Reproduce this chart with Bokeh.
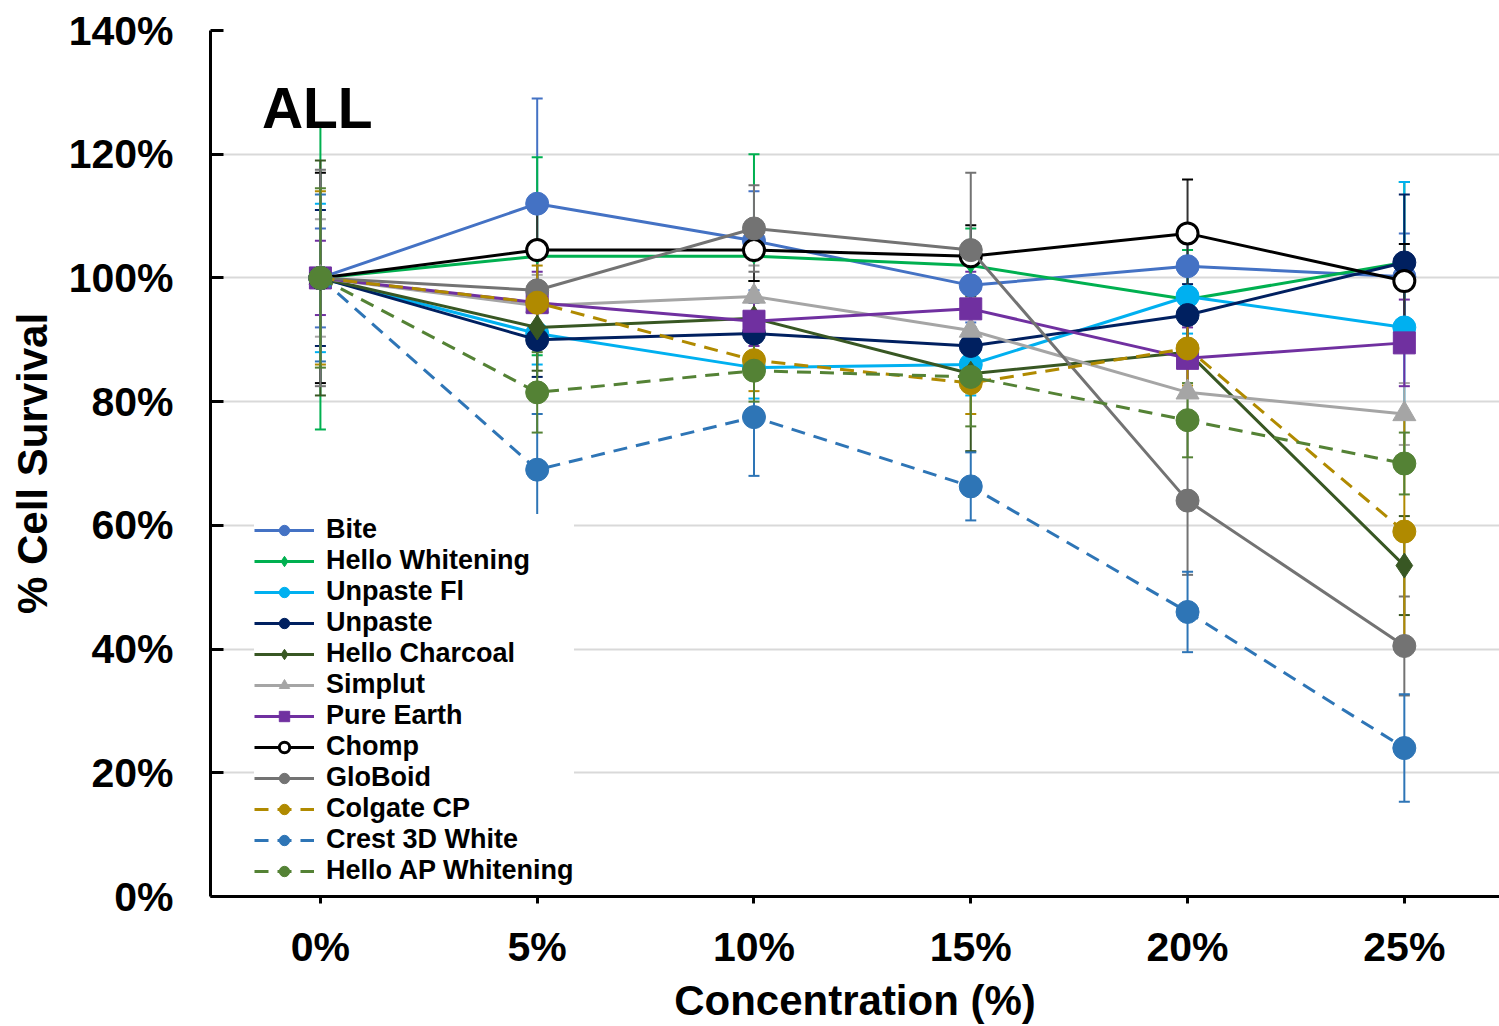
from bokeh.plotting import figure
from bokeh.models import (Range1d, FixedTicker, PrintfTickFormatter, Whisker, TeeHead,
                          ColumnDataSource, Legend, LegendItem, Label)
from bokeh.embed import file_html
from bokeh.resources import INLINE

categories = ["0%", "5%", "10%", "15%", "20%", "25%"]

series_names = ["Bite", "Hello Whitening", "Unpaste Fl", "Unpaste", "Hello Charcoal",
                "Simplut", "Pure Earth", "Chomp", "GloBoid", "Colgate CP",
                "Crest 3D White", "Hello AP Whitening"]

bite = [100, 112, 106, 98.8, 101.9, 100.2]
bite_err = [8, 17, 8, 6, 6, 7]
hello_whitening = [100, 103.5, 103.5, 102, 96.5, 102.5]
hello_whitening_err = [24.5, 16, 16.5, 6, 8, 13]
unpaste_fl = [100, 91, 85.5, 86, 97, 92]
unpaste_fl_err = [12, 5, 5, 5, 6, 23.5]
unpaste = [100, 90, 91, 89, 94, 102.5]
unpaste_err = [11, 6, 5, 5, 5, 11]
hello_charcoal = [100, 92, 93.5, 84.5, 88, 53.5]
hello_charcoal_err = [19, 7, 6, 12.5, 7, 8]
simplut = [100, 95.5, 97, 91.5, 81.5, 78]
simplut_err = [9.5, 5, 5, 5, 4, 5]
pure_earth = [100, 96, 93, 95, 87, 89.5]
pure_earth_err = [6, 5, 4, 6, 5, 7]
chomp = [100, 104.5, 104.5, 103.5, 107.2, 99.5]
chomp_err = [17, 6, 5, 5, 8.7, 6]
globoid = [100, 98, 108, 104.5, 64, 40.5]
globoid_err = [17.5, 6, 7, 12.5, 12, 8]
colgate_cp = [100, 96, 86.7, 83, 88.6, 59]
colgate_cp_err = [14, 6, 5, 5, 6, 19]
crest_3d = [100, 69, 77.5, 66.3, 46, 24]
crest_3d_err = [13.5, 9, 9.5, 5.5, 6.5, 8.7]
hello_ap = [100, 81.5, 85, 84, 77, 70]
hello_ap_err = [14.5, 6.5, 5, 8, 6, 5]

values = [bite, hello_whitening, unpaste_fl, unpaste, hello_charcoal, simplut,
          pure_earth, chomp, globoid, colgate_cp, crest_3d, hello_ap]
errors = [bite_err, hello_whitening_err, unpaste_fl_err, unpaste_err, hello_charcoal_err,
          simplut_err, pure_earth_err, chomp_err, globoid_err, colgate_cp_err,
          crest_3d_err, hello_ap_err]

# style: (line color, fill color, marker, size, dash)
styles = [
    ("#4472C4", "#4472C4", "circle", 23, "solid"),
    ("#00B050", "#00B050", "diamond", 15, "solid"),
    ("#00B0F0", "#00B0F0", "circle", 23, "solid"),
    ("#002060", "#002060", "circle", 23, "solid"),
    ("#385723", "#385723", "diamond", 25, "solid"),
    ("#A5A5A5", "#A5A5A5", "triangle", 23, "solid"),
    ("#7030A0", "#7030A0", "square", 22, "solid"),
    ("#000000", "#FFFFFF", "circle", 21, "solid"),
    ("#737373", "#737373", "circle", 23, "solid"),
    ("#B08A00", "#B08A00", "circle", 23, "14 9"),
    ("#2E75B6", "#2E75B6", "circle", 23, "14 9"),
    ("#548235", "#548235", "circle", 23, "14 9"),
]

FONT = "Liberation Sans"

p = figure(width=1499, height=1026, output_backend="svg", toolbar_location=None,
           x_range=Range1d(-0.507, 5.439), y_range=Range1d(0, 140),
           min_border_left=210, min_border_right=0, min_border_top=30,
           min_border_bottom=129)
p.outline_line_color = None
p.xgrid.grid_line_color = None
p.ygrid.grid_line_color = "#D9D9D9"
p.ygrid.grid_line_width = 2

xs = list(range(len(categories)))
p.xaxis.ticker = FixedTicker(ticks=xs)
p.xaxis.major_label_overrides = {i: c for i, c in enumerate(categories)}
p.yaxis.ticker = FixedTicker(ticks=[0, 20, 40, 60, 80, 100, 120, 140])
p.yaxis.formatter = PrintfTickFormatter(format="%d%%")

for ax in (p.xaxis[0], p.yaxis[0]):
    ax.axis_line_width = 3
    ax.axis_line_color = "black"
    ax.major_tick_line_width = 3
    ax.major_tick_line_color = "black"
    ax.minor_tick_line_color = None
    ax.major_label_text_font = FONT
    ax.major_label_text_font_style = "bold"
    ax.major_label_text_font_size = "41px"
    ax.major_label_text_color = "black"
    ax.axis_label_text_font = FONT
    ax.axis_label_text_font_style = "bold"
    ax.axis_label_text_font_size = "42px"
    ax.axis_label_text_color = "black"

p.xaxis.major_tick_in = 0
p.xaxis.major_tick_out = 7
p.xaxis.major_label_standoff = 20
p.xaxis.axis_label = "Concentration (%)"
p.xaxis.axis_label_standoff = 4

p.yaxis.major_tick_in = 13
p.yaxis.major_tick_out = 0
p.yaxis.major_label_standoff = 37
p.yaxis.axis_label = "% Cell Survival"
p.yaxis.axis_label_standoff = 10

items = []
for name, vals, errs, (lc, fc, mk, sz, dash) in zip(series_names, values, errors, styles):
    src = ColumnDataSource(dict(
        x=xs, y=vals,
        upper=[v + e for v, e in zip(vals, errs)],
        lower=[v - e for v, e in zip(vals, errs)],
    ))
    w = Whisker(base="x", upper="upper", lower="lower", source=src, dimension="height",
                line_color=lc if lc != "#000000" else "#333333", line_width=2,
                upper_head=TeeHead(size=11, line_color=lc, line_width=2),
                lower_head=TeeHead(size=11, line_color=lc, line_width=2))
    p.add_layout(w)
    lr = p.line("x", "y", source=src, line_color=lc, line_width=3, line_dash=dash)
    sr = p.scatter("x", "y", source=src, marker=mk, size=sz, fill_color=fc,
                   line_color=lc, line_width=3 if fc == "#FFFFFF" else 1)
    items.append(LegendItem(label=name, renderers=[lr, sr]))

legend = Legend(items=items, location=(44, 10),
                label_text_font=FONT, label_text_font_style="bold",
                label_text_font_size="27px", label_text_color="black",
                glyph_width=60, glyph_height=26, label_height=26,
                spacing=0, padding=4, margin=0, label_standoff=12,
                border_line_color=None, background_fill_color="white",
                background_fill_alpha=1)
p.add_layout(legend)

p.add_layout(Label(x=-0.27, y=127.5, text="ALL", text_font=FONT, text_font_style="bold",
                   text_font_size="57px", text_color="black",
                   text_baseline="alphabetic"))

open("out.html", "w").write(file_html(p, INLINE))
